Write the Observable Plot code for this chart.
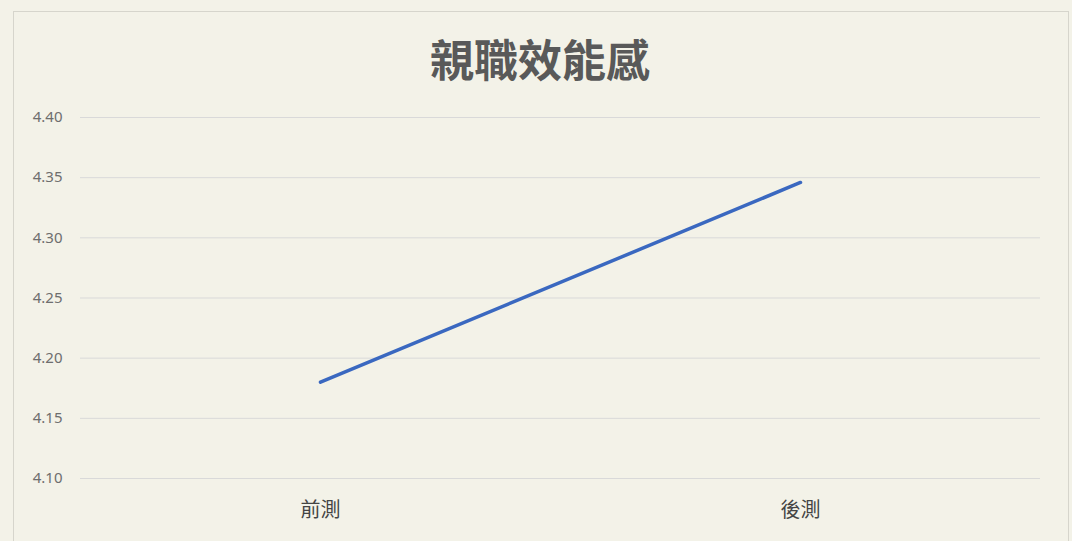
<!DOCTYPE html>
<html>
<head>
<meta charset="utf-8">
<script src="https://cdn.jsdelivr.net/npm/d3@7"></script>
<script src="https://cdn.jsdelivr.net/npm/@observablehq/plot@0.6"></script>
<style>
  html, body { margin: 0; padding: 0; background: #f3f2e8; }
  #wrap { position: relative; width: 1072px; height: 541px; overflow: hidden; background: #f3f2e8; }
  #frame { position: absolute; left: 13px; top: 11px; width: 1056px; height: 540px; border: 1px solid #d6d5cc; box-sizing: border-box; }
  #title { position: absolute; left: 0; top: 0; width: 1080px; height: 95px; text-align: center; font-family: "Noto Sans CJK TC", sans-serif; font-weight: bold; font-size: 44px; color: #595959; line-height: 116px; }
  #chart { position: absolute; left: 0; top: 95px; }
</style>
</head>
<body>
<div id="wrap">
  <div id="frame"></div>
  <div id="title">親職效能感</div>
  <div id="chart"></div>
</div>
<script>
const categories = ["前測", "後測"];
const values = [4.18, 4.346];
const yTicks = [4.10, 4.15, 4.20, 4.25, 4.30, 4.35, 4.40];

const data = categories.map((c, i) => ({phase: c, value: values[i]}));

const chart = Plot.plot({
  width: 1072,
  height: 446,
  marginTop: 22,
  marginBottom: 63,
  marginLeft: 80,
  marginRight: 32,
  style: { background: "transparent", fontFamily: "'Noto Sans', 'Noto Sans CJK TC', sans-serif" },
  x: { type: "point", domain: categories, padding: 0.5 },
  y: { domain: [4.10, 4.40] },
  marks: [
    Plot.ruleY(yTicks, { stroke: "#d9d9d9", strokeWidth: 1 }),
    Plot.axisY({ ticks: yTicks, tickFormat: d => d.toFixed(2), tickSize: 0, tickPadding: 18, fontSize: 15, fill: "#6e6e6e", label: null }),
    Plot.axisX({ tickSize: 0, tickPadding: 24, fontSize: 20, fill: "#444", label: null, fontFamily: "'Noto Sans CJK TC', sans-serif" }),
    Plot.line(data, { x: "phase", y: "value", stroke: "#3a68c0", strokeWidth: 3.5, strokeLinecap: "round" })
  ]
});
document.getElementById("chart").appendChild(chart);
</script>
</body>
</html>
